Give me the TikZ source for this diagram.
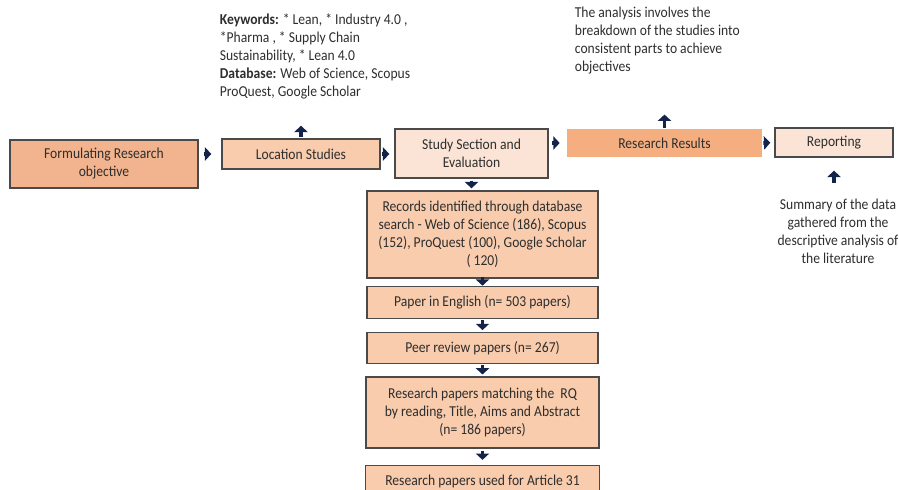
\documentclass[tikz,border=0pt]{standalone}
\usepackage{fontspec}
\setmainfont[FakeStretch=0.9]{Carlito}
\usetikzlibrary{positioning, arrows.meta}

\definecolor{darkpeach}{HTML}{F2B48E}
\definecolor{peach}{HTML}{F8CCAC}
\definecolor{palepeach}{HTML}{FBE4D5}
\definecolor{boldpeach}{HTML}{F5AE80}
\definecolor{boxline}{HTML}{4A4A4A}
\definecolor{navy}{HTML}{14234A}
\definecolor{note}{HTML}{2E2E2E}

\begin{document}
\begin{tikzpicture}[
        x=0.02cm, y=-0.02cm,
        node distance=0.26cm,
        every node/.style={font=\fontsize{8.6}{10.2}\selectfont, inner sep=2pt, text=note},
        stage/.style={draw=boxline, line width=0.8pt, align=center},
        chain/.style={stage, fill=peach, minimum width=4.62cm},
        remark/.style={align=left, anchor=north west},
        flow/.style={draw=navy, line width=2.2pt, -{Triangle[width=7.5pt, length=3.6pt]}}
    ]
    \useasboundingbox (0,0) rectangle (899,490);

    % top row
    \node[stage, fill=darkpeach, minimum width=3.76cm, minimum height=0.96cm] (Formulate) at (104,164) {Formulating Research\\objective};
    \node[stage, fill=peach, minimum width=3.16cm, minimum height=0.6cm] (Locate) at (301,154) {Location Studies};
    \node[stage, fill=palepeach, minimum width=3.06cm, minimum height=0.98cm] (Select) at (471.5,153.5) {Study Section and\\Evaluation};
    \node[fill=boldpeach, minimum width=3.9cm, minimum height=0.56cm] (Results) at (664.5,143) {Research Results};
    \node[stage, fill=palepeach, minimum width=2.36cm, minimum height=0.58cm] (Report) at (834,142.5) {Reporting};

    % notes
    \node[remark] (Keywords) at (216,10) {\textbf{Keywords:} * Lean, * Industry 4.0 ,\\*Pharma , * Supply Chain\\Sustainability, * Lean 4.0\\\textbf{Database:} Web of Science, Scopus\\ProQuest, Google Scholar};
    \node[remark] (Analysis) at (571,3) {The analysis involves the\\breakdown of the studies into\\consistent parts to achieve\\objectives};
    \node[align=center, anchor=north] (Summary) at (838,195) {Summary of the data\\gathered from the\\descriptive analysis of\\the literature};

    % screening chain
    \node[chain, minimum height=1.74cm] (Records) at (482.5,234.5) {Records identified through database\\search - Web of Science (186), Scopus\\(152), ProQuest (100), Google Scholar\\( 120)};
    \node[chain, minimum height=0.64cm, below=0.14cm of Records] (English) {Paper in English (n= 503 papers)};
    \node[chain, minimum height=0.62cm, below=of English] (Peer) {Peer review papers (n= 267)};
    \node[chain, minimum width=4.66cm, minimum height=1.42cm, below=0.24cm of Peer] (Matching) {Research papers matching the\ \ RQ\\by reading, Title, Aims and Abstract\\(n= 186 papers)};
    \node[chain, minimum width=4.68cm, minimum height=0.64cm, below=0.32cm of Matching] (Article) {Research papers used for Article 31};

    % arrows
    \draw[flow, shorten <=0.1cm, shorten >=0.2cm] (Formulate.east |- Locate.west) -- (Locate.west);
    \draw[flow, shorten <=0.02cm, shorten >=0.1cm] (Locate.east) -- (Locate.east -| Select.west);
    \draw[flow, shorten <=0.06cm, shorten >=0.14cm] (Select.east |- Results.west) -- (Results.west);
    \draw[flow, shorten <=0.02cm, shorten >=0.08cm] (Results.east) -- (Report.west);
    \draw[flow, shorten <=0.02cm, shorten >=0.46cm] (Locate.north) -- (Locate.north |- Keywords.south);
    \draw[flow, shorten <=0.02cm, shorten >=0.74cm] (Results.north) -- (Results.north |- Analysis.south);
    \draw[flow, shorten <=0.24cm, shorten >=0.26cm] (Report.south |- Summary.north) -- (Report.south);
    \draw[flow, shorten <=0.04cm, shorten >=0.04cm] (Select.south) -- (Select.south |- Records.north);
    \draw[flow, shorten <=-0.04cm] (Records) -- (English);
    \draw[flow, shorten <=0.02cm, shorten >=0.04cm] (English) -- (Peer);
    \draw[flow, shorten <=0.02cm, shorten >=0.04cm] (Peer) -- (Matching);
    \draw[flow, shorten <=0.04cm, shorten >=0.1cm] (Matching) -- (Article);
\end{tikzpicture}
\end{document}
